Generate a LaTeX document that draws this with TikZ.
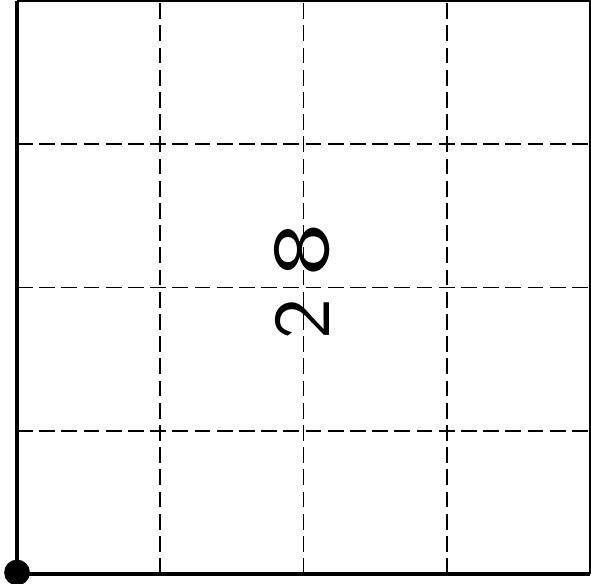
\documentclass[tikz,border=0pt]{standalone}
\usepackage{tikz}
\usetikzlibrary{positioning,calc}

\begin{document}
\begin{tikzpicture}[x=2cm,y=2cm]
  \useasboundingbox (-0.119,-0.07) rectangle (4.007,4.007);
  \tikzset{gridline/.style={black,line width=0.7pt,dash pattern=on 0.22cm off 0.09cm},
    digit/.style={rotate=90,inner sep=0pt,font=\sffamily\fontsize{32}{32}\selectfont}}
  \foreach \k in {1,2,3} {
    \draw[gridline] (\k,0) -- (\k,4);
    \draw[gridline] (0,\k) -- (4,\k);
  }
  \draw[line width=0.5pt] (0,4) -- (4,4) -- (4,0);
  \draw[line width=1.6pt] (0,4) -- (0,0) -- (4,0);
  \fill (0,0.01) circle (0.09);
  \node[digit] (eight) at (1.99,2.262) {\scalebox{1.4}[1]{8}};
  \node[digit] (two) at (1.99,1.78) {\scalebox{1.08}[1]{2}};
\end{tikzpicture}
\end{document}
